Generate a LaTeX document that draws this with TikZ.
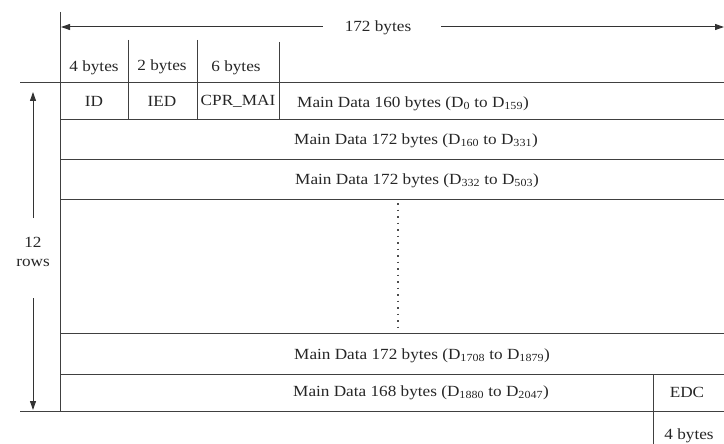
\documentclass[tikz,border=0pt]{standalone}
\usepackage{fontspec}
\setmainfont[FakeStretch=1.11]{Liberation Serif}
\usetikzlibrary{arrows.meta}
\begin{document}
\begin{tikzpicture}[x=1pt,y=-1pt,
  rule/.style={draw=black!75, line width=1pt},
  lbl/.style={inner sep=0pt, font=\fontsize{15.5}{18}\selectfont, text=black!85},
  dim/.style={draw=black!80, line width=1pt, -{Triangle[length=9pt,width=6pt]}}]
\useasboundingbox (0,0) rectangle (724,444);
% frame lines
\draw[rule] (60,12) -- (60,411);
\draw[rule] (20,83) -- (724,83);
\draw[rule] (60,120) -- (724,120);
\draw[rule] (60,160) -- (724,160);
\draw[rule] (60,199) -- (724,199);
\draw[rule] (60,333) -- (724,333);
\draw[rule] (60,374) -- (724,374);
\draw[rule] (20,411) -- (724,411);
% header column dividers
\draw[rule] (128,40) -- (128,120);
\draw[rule] (197,40) -- (197,120);
\draw[rule] (279,42) -- (279,120);
\draw[rule] (653,374) -- (653,444);
% dotted continuation
\draw[draw=black!70, line width=1.2pt, dash pattern=on 1.5pt off 5pt] (398,203) -- (398,327);
% top dimension
\node[lbl] (w) at (378,28) {172 bytes};
\coordinate (wl) at (61,27);
\coordinate (wr) at (724,27);
\draw[dim] ([xshift=-22pt]w.west |- wl) -- (wl);
\draw[dim] ([xshift=30pt]w.east |- wr) -- (wr);
% left dimension
\node[lbl, align=center] (h) at (33,252) {12\\[1pt]rows};
\coordinate (ht) at (33,92);
\coordinate (hb) at (33,410);
\draw[dim] (33,218) -- (ht);
\draw[dim] (33,298) -- (hb);
% header labels
\node[lbl] (c1) at (94,68) {4 bytes};
\node[lbl] (c2) at (162,67) {2 bytes};
\node[lbl] (c3) at (236,68) {6 bytes};
\node[lbl] (f1) at (94,101) {ID};
\node[lbl] (f2) at (162,101) {IED};
\node[lbl] (f3) at (238,101) {CPR\_MAI};
% rows
\node[lbl] (r1) at (413,104) {Main Data 160 bytes (D\textsubscript{0} to D\textsubscript{159})};
\node[lbl] (r2) at (416,141) {Main Data 172 bytes (D\textsubscript{160} to D\textsubscript{331})};
\node[lbl] (r3) at (417,181) {Main Data 172 bytes (D\textsubscript{332} to D\textsubscript{503})};
\node[lbl] (r4) at (422,356) {Main Data 172 bytes (D\textsubscript{1708} to D\textsubscript{1879})};
\node[lbl] (r5) at (421,393) {Main Data 168 bytes (D\textsubscript{1880} to D\textsubscript{2047})};
\node[lbl] (edc) at (687,392) {EDC};
\node[lbl] (eb) at (689,436) {4 bytes};
\end{tikzpicture}
\end{document}
